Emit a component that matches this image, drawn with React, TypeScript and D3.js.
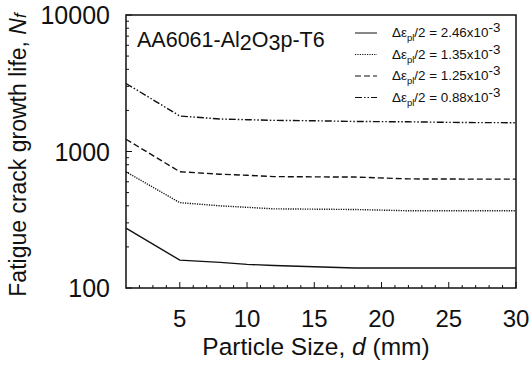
import { useRef, useEffect } from "react";
import * as d3 from "d3";

// particle size d (mm)
const sizes = [1, 5, 8, 10, 12, 15, 18, 22, 26, 30];

// fatigue crack growth life Nf for each plastic strain amplitude
const life246 = [275, 160, 154, 149, 146, 143, 140, 140, 140, 140];
const life135 = [710, 422, 400, 390, 380, 378, 376, 368, 368, 368];
const life125 = [1230, 711, 682, 670, 655, 652, 650, 630, 628, 628];
const life088 = [3150, 1820, 1730, 1710, 1690, 1680, 1660, 1650, 1630, 1625];

const strainLabels = ["2.46", "1.35", "1.25", "0.88"];
const xTicks = [5, 10, 15, 20, 25, 30];
const yTicks = [100, 1000, 10000];

export default function App() {
	const svgRef = useRef(null);

	useEffect(() => {
		const margin = { top: 15, right: 15, bottom: 82, left: 126 },
			W = 531,
			H = 370,
			width = W - margin.left - margin.right,
			height = H - margin.top - margin.bottom;

		const root = d3.select(svgRef.current);
		root.selectAll("*").remove();
		const svg = root
			.append("g")
			.attr("transform", `translate(${margin.left},${margin.top})`);

		const x = d3.scaleLinear().domain([1, 30]).range([0, width]);
		const y = d3.scaleLog().domain([100, 10000]).range([height, 0]);

		const series = [
			{ values: life246, dash: null },
			{ values: life135, dash: "1.2,1.2" },
			{ values: life125, dash: "6,3" },
			{ values: life088, dash: "7,2,1.5,2,1.5,2" },
		];

		const line = d3
			.line<number>()
			.x((_, i) => x(sizes[i]))
			.y((d) => y(d));

		series.forEach((s) => {
			svg.append("path")
				.datum(s.values)
				.attr("fill", "none")
				.attr("stroke", "#111")
				.attr("stroke-width", 1.4)
				.attr("stroke-dasharray", s.dash)
				.attr("d", line);
		});

		// ticks inside the frame
		const xMinor = d3.range(2, 30).filter((v) => v % 5 !== 0);
		svg.selectAll(".xminor")
			.data(xMinor)
			.enter()
			.append("line")
			.attr("x1", (d) => x(d))
			.attr("x2", (d) => x(d))
			.attr("y1", height)
			.attr("y2", height - 3)
			.attr("stroke", "#111");
		svg.selectAll(".xmajor")
			.data(xTicks)
			.enter()
			.append("line")
			.attr("x1", (d) => x(d))
			.attr("x2", (d) => x(d))
			.attr("y1", height)
			.attr("y2", height - 6)
			.attr("stroke", "#111");

		const yMinor = [];
		[100, 1000].forEach((b) => {
			for (let k = 2; k <= 9; k++) yMinor.push(b * k);
		});
		svg.selectAll(".yminor")
			.data(yMinor)
			.enter()
			.append("line")
			.attr("x1", 0)
			.attr("x2", 3)
			.attr("y1", (d) => y(d))
			.attr("y2", (d) => y(d))
			.attr("stroke", "#111");
		svg.selectAll(".ymajor")
			.data(yTicks)
			.enter()
			.append("line")
			.attr("x1", 0)
			.attr("x2", 6)
			.attr("y1", (d) => y(d))
			.attr("y2", (d) => y(d))
			.attr("stroke", "#111");

		// frame
		svg.append("rect")
			.attr("width", width)
			.attr("height", height)
			.attr("fill", "none")
			.attr("stroke", "#111")
			.attr("stroke-width", 1.5);

		// tick labels
		svg.selectAll(".xlab")
			.data(xTicks)
			.enter()
			.append("text")
			.attr("x", (d) => x(d))
			.attr("y", height + 39)
			.attr("text-anchor", "middle")
			.attr("font-size", 24)
			.text((d) => d);
		svg.selectAll(".ylab")
			.data(yTicks)
			.enter()
			.append("text")
			.attr("x", -16)
			.attr("y", (d) => y(d) + 9)
			.attr("text-anchor", "end")
			.attr("font-size", 25)
			.text((d) => d);

		// axis titles
		const xt = svg.append("text")
			.attr("x", width / 2 - 5)
			.attr("y", height + 67)
			.attr("text-anchor", "middle")
			.attr("font-size", 24.5);
		xt.append("tspan").text("Particle Size, ");
		xt.append("tspan").attr("font-style", "italic").text("d");
		xt.append("tspan").text(" (mm)");

		const yt = svg.append("text")
			.attr("transform", "rotate(-90)")
			.attr("x", -140)
			.attr("y", -margin.left + 26)
			.attr("text-anchor", "middle")
			.attr("font-size", 23);
		yt.append("tspan").text("Fatigue crack growth life, ");
		yt.append("tspan").attr("font-style", "italic").text("N");
		yt.append("tspan").attr("font-style", "italic").attr("font-size", 17).text("f");

		// material label
		const mt = svg.append("text")
			.attr("x", 11)
			.attr("y", 32)
			.attr("font-size", 21.5);
		mt.append("tspan").text("AA6061-Al");
		mt.append("tspan").attr("dy", 3).text("2");
		mt.append("tspan").attr("dy", -3).text("O");
		mt.append("tspan").attr("dy", 3).text("3");
		mt.append("tspan").attr("dy", -3).text("p-T6");

		// legend
		const lg = svg.append("g").attr("transform", "translate(229,18)");
		series.forEach((s, i) => {
			const row = lg.append("g").attr("transform", `translate(0,${i * 21.5})`);
			row.append("line")
				.attr("x1", 0)
				.attr("x2", 22)
				.attr("stroke", "#111")
				.attr("stroke-width", 1)
				.attr("stroke-dasharray", s.dash);
			const t = row.append("text").attr("x", 37).attr("y", 4).attr("font-size", 13.4);
			t.append("tspan").text("\u0394\u03b5");
			t.append("tspan").attr("dy", 4).attr("font-size", 9.5).text("pl");
			t.append("tspan").attr("dy", -4).text(`/2 = ${strainLabels[i]}x10`);
			t.append("tspan").attr("dy", -5).text("-3");
		});
	}, []);

	return (
		<svg
			ref={svgRef}
			width={531}
			height={370}
			style={{ position: "absolute", left: 0, top: 0, background: "#fff" }}
			fontFamily="Arial, 'Liberation Sans', sans-serif"
			fill="#111"
		></svg>
	);
}
